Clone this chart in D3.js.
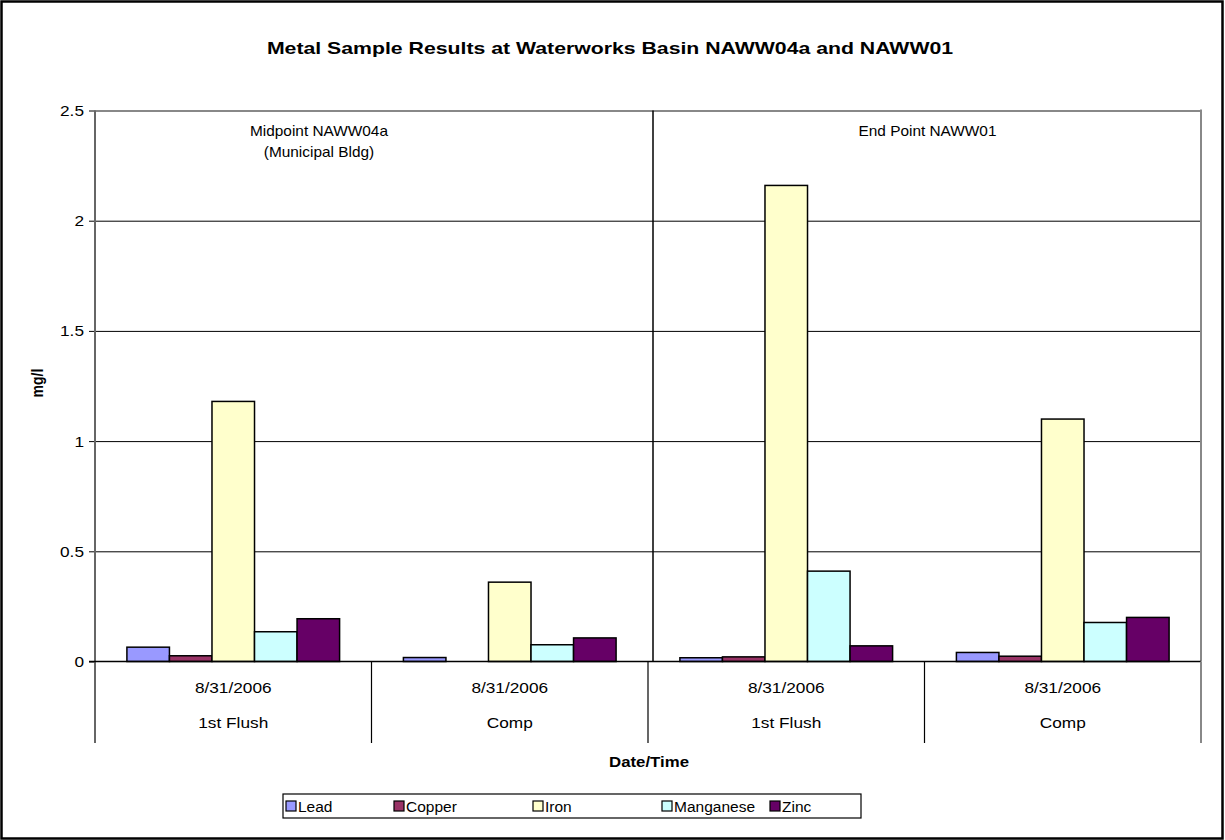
<!DOCTYPE html>
<html>
<head>
<meta charset="utf-8">
<script src="https://cdn.jsdelivr.net/npm/d3@7/dist/d3.min.js"></script>
<style>
  body { margin: 0; background: #fff; }
  svg { display: block; }
  text { font-family: "Liberation Sans", Arial, sans-serif; fill: #000; }
</style>
</head>
<body>
<svg id="chart" width="1225" height="840"></svg>
<script>
// Sampling events (category axis): date line and sample type line
const categories = ["mid-flush", "mid-comp", "end-flush", "end-comp"];
const dateLabels = ["8/31/2006", "8/31/2006", "8/31/2006", "8/31/2006"];
const sampleLabels = ["1st Flush", "Comp", "1st Flush", "Comp"];

// Metal concentrations, mg/l (null = not reported)
const seriesNames = ["Lead", "Copper", "Iron", "Manganese", "Zinc"];
const lead      = [0.065, 0.018, 0.017, 0.041];
const copper    = [0.026, null,  0.021, 0.024];
const iron      = [1.18,  0.36,  2.16,  1.10];
const manganese = [0.135, 0.076, 0.41,  0.177];
const zinc      = [0.194, 0.107, 0.071, 0.20];
const seriesColors = ["#9999FF", "#993366", "#FFFFCC", "#CCFFFF", "#660066"];

const yTicks = [0, 0.5, 1, 1.5, 2, 2.5];
const yTickLabels = ["0", "0.5", "1", "1.5", "2", "2.5"];

// Sampling site captions
const siteLabels = [["Midpoint NAWW04a", "(Municipal Bldg)"], ["End Point NAWW01"]];

const title = "Metal Sample Results at Waterworks Basin NAWW04a and NAWW01";
const xTitle = "Date/Time";
const yTitle = "mg/l";

const seriesValues = [lead, copper, iron, manganese, zinc];

const svg = d3.select("#chart");
const W = 1225, H = 840;
const plot = { left: 95, right: 1201, top: 110.5, bottom: 661.5 };
const catAxisBottom = 743;
const STRETCH = 1.15; // the chart text is set slightly wide

// Text placed at (x, y), widened horizontally by sx
function wideText(sel, x, y, str, opts) {
  const o = Object.assign({ size: 15, weight: "normal", anchor: "middle", sx: STRETCH }, opts || {});
  return sel.append("text")
    .attr("transform", `translate(${x},${y}) scale(${o.sx},1)`)
    .attr("text-anchor", o.anchor)
    .style("font-size", o.size + "px")
    .style("font-weight", o.weight)
    .text(str);
}

// Outer chart frame
svg.append("rect")
  .attr("x", 1.5).attr("y", 1.5)
  .attr("width", W - 4).attr("height", H - 3)
  .attr("fill", "#fff").attr("stroke", "#000").attr("stroke-width", 2.5);

const x0 = d3.scaleBand().domain(categories).range([plot.left, plot.right]).padding(0);
const bw = x0.bandwidth();
const gap = bw * 1.5 / 6.5; // 150% gap between clusters
const x1 = d3.scaleBand().domain(seriesNames).range([gap / 2, bw - gap / 2]).padding(0);
const y = d3.scaleLinear().domain([0, 2.5]).range([plot.bottom, plot.top]);

// Horizontal gridlines
const grid = svg.append("g").attr("transform", `translate(${plot.left},0)`)
  .call(d3.axisLeft(y).tickValues(yTicks.slice(1)).tickSize(-(plot.right - plot.left)).tickFormat(""));
grid.select(".domain").remove();
grid.selectAll(".tick line").attr("stroke", "#000").attr("stroke-width", 1);
grid.selectAll(".tick").filter(d => d === 2.5).select("line").attr("stroke", "#888").attr("stroke-width", 2);

// Plot area right border
svg.append("line")
  .attr("x1", plot.right).attr("x2", plot.right)
  .attr("y1", plot.top - 1).attr("y2", plot.bottom)
  .attr("stroke", "#888").attr("stroke-width", 2);

// Separator between the two sampling sites
const siteSplit = x0(categories[2]) + 5;
svg.append("line")
  .attr("x1", siteSplit).attr("x2", siteSplit)
  .attr("y1", plot.top).attr("y2", plot.bottom)
  .attr("stroke", "#000").attr("stroke-width", 1.5);

// Bars
const cells = [];
categories.forEach((c, ci) => {
  seriesNames.forEach((s, si) => {
    const v = seriesValues[si][ci];
    if (v !== null) cells.push({ c, s, v, color: seriesColors[si] });
  });
});
svg.append("g").selectAll("rect").data(cells).join("rect")
  .attr("x", d => x0(d.c) + x1(d.s))
  .attr("y", d => y(d.v))
  .attr("width", x1.bandwidth())
  .attr("height", d => y(0) - y(d.v))
  .attr("fill", d => d.color)
  .attr("stroke", "#000").attr("stroke-width", 1.5);

// Value axis
const yAxis = svg.append("g").attr("transform", `translate(${plot.left},0)`)
  .call(d3.axisLeft(y).tickValues(yTicks).tickSize(6).tickFormat(""));
yAxis.select(".domain").remove();
yAxis.selectAll(".tick line").attr("stroke", "#000");
yAxis.selectAll(".tick").each(function (d, i) {
  wideText(d3.select(this), -11, 5, yTickLabels[i], { anchor: "end" });
});
svg.append("line")
  .attr("x1", plot.left).attr("x2", plot.left)
  .attr("y1", plot.top).attr("y2", catAxisBottom)
  .attr("stroke", "#666").attr("stroke-width", 2);

// Category axis baseline and cluster dividers
svg.append("line")
  .attr("x1", plot.left - 6).attr("x2", plot.right)
  .attr("y1", y(0)).attr("y2", y(0))
  .attr("stroke", "#000").attr("stroke-width", 1.5);
svg.append("g").selectAll("line").data(categories.slice(1).concat(["__end"])).join("line")
  .attr("x1", d => d === "__end" ? plot.right : x0(d))
  .attr("x2", d => d === "__end" ? plot.right : x0(d))
  .attr("y1", y(0)).attr("y2", catAxisBottom)
  .attr("stroke", d => d === "__end" ? "#888" : "#000")
  .attr("stroke-width", d => d === "__end" ? 2 : 1.2);

const catText = svg.append("g");
categories.forEach((c, i) => {
  wideText(catText, x0(c) + bw / 2, 693, dateLabels[i]);
  wideText(catText, x0(c) + bw / 2, 728, sampleLabels[i]);
});

// Site captions
const sites = svg.append("g");
siteLabels[0].forEach((t, i) => {
  wideText(sites, x0(categories[0]) + bw * 0.81, 136 + i * 21, t, { size: 14, sx: 1.1 });
});
siteLabels[1].forEach((t, i) => {
  wideText(sites, x0(categories[3]) + 3, 136 + i * 21, t, { size: 14, sx: 1.1 });
});

// Titles
wideText(svg, 610, 54, title, { size: 17, weight: "bold", sx: 1.25 });
wideText(svg, 649, 767, xTitle, { size: 14, weight: "bold", sx: 1.2 });
svg.append("text").attr("transform", "translate(43,383) rotate(-90) scale(1,1.15)").attr("text-anchor", "middle")
  .style("font-size", "14px").style("font-weight", "bold").text(yTitle);

// Legend: box and entry offsets from its left edge
const legX = 283, legY = 794, legW = 578, legH = 24;
const legendOffsets = [3, 111, 250, 379, 487];
const legend = svg.append("g");
legend.append("rect").attr("x", legX).attr("y", legY).attr("width", legW).attr("height", legH)
  .attr("fill", "#fff").attr("stroke", "#000").attr("stroke-width", 1.2);
const items = legend.selectAll("g.item").data(seriesNames).join("g").attr("class", "item")
  .attr("transform", (d, i) => `translate(${legX + legendOffsets[i]},${legY + legH / 2})`);
items.append("rect").attr("x", 0).attr("y", -5).attr("width", 10).attr("height", 10)
  .attr("fill", (d, i) => seriesColors[i]).attr("stroke", "#000").attr("stroke-width", 1.2);
items.each(function (d) { wideText(d3.select(this), 12, 5.5, d, { anchor: "start", size: 15.5, sx: 1.0 }); });
</script>
</body>
</html>
